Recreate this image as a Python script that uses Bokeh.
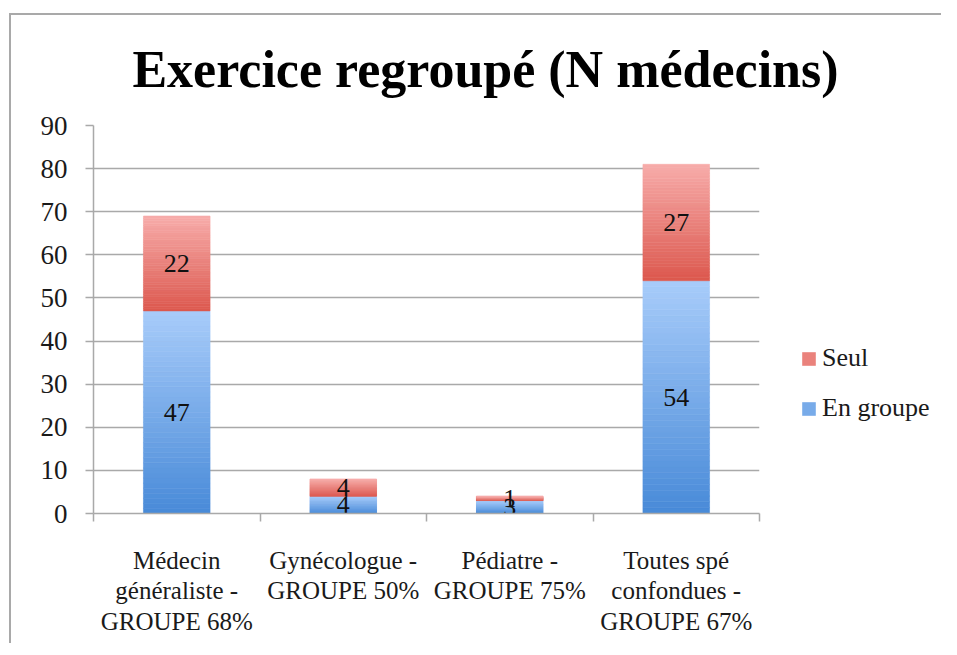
import numpy as np
from bokeh.plotting import figure
from bokeh.layouts import row, column
from bokeh.models import Range1d, FixedTicker, Legend, LegendItem, ColumnDataSource, Label
from bokeh.embed import file_html
from bokeh.resources import INLINE
from bokeh.core.properties import value

# ---- data ----
categories = ["Médecin\ngénéraliste -\nGROUPE 68%",
              "Gynécologue -\nGROUPE 50%",
              "Pédiatre -\nGROUPE 75%",
              "Toutes spé\nconfondues -\nGROUPE 67%"]
en_groupe = [47, 4, 3, 54]
seul = [22, 4, 1, 27]
y_ticks = [0, 10, 20, 30, 40, 50, 60, 70, 80, 90]
series_names = ["Seul", "En groupe"]
title_text = "Exercice regroupé (N médecins)"

FONT = "Liberation Serif"
BLUE_TOP, BLUE_BOT = (0xA8, 0xCC, 0xFA), (0x48, 0x8A, 0xD8)
RED_TOP, RED_BOT = (0xF7, 0xAC, 0xAA), (0xDC, 0x58, 0x4E)
BAR_W = 0.4
N_BANDS = 40
GRAY = "#a9a9a9"
W_TOTAL = 930
TITLE_H = 92
H = 536


def bare(fig):
    fig.outline_line_color = None
    fig.grid.visible = False
    fig.background_fill_color = "white"
    fig.border_fill_color = "white"


# ---- title strip ----
pt = figure(width=W_TOTAL, height=TITLE_H, output_backend="svg", toolbar_location=None,
            x_axis_location=None, y_axis_location=None,
            x_range=Range1d(0, W_TOTAL), y_range=Range1d(0, TITLE_H),
            min_border=0, min_border_left=0, min_border_right=0,
            min_border_top=0, min_border_bottom=0)
bare(pt)
pt.add_layout(Label(x=474, y=38, text=title_text, text_align="center",
                    text_baseline="alphabetic", text_font=FONT, text_font_size="52px",
                    text_font_style="bold", text_color="#000000"))

# ---- bars ----
p = figure(width=758, height=H, output_backend="svg", toolbar_location=None,
           x_range=Range1d(0, len(categories)), y_range=Range1d(0, 90),
           min_border_left=82, min_border_right=10, min_border_top=18,
           min_border_bottom=130)
p.outline_line_color = None
p.background_fill_color = "white"
p.border_fill_color = "white"


def hexc(c):
    return "#%02x%02x%02x" % tuple(int(round(v)) for v in c)


def mix(ctop, cbot, f):
    return [cbot[k] + (ctop[k] - cbot[k]) * f for k in range(3)]


def bands(bottoms, tops, ctop, cbot):
    L, R, B, T, C = [], [], [], [], []
    for i, (b, t) in enumerate(zip(bottoms, tops)):
        edges = np.linspace(b, t, N_BANDS + 1)
        for j in range(N_BANDS):
            f = (j + 0.5) / N_BANDS
            L.append(i + 0.5 - BAR_W / 2)
            R.append(i + 0.5 + BAR_W / 2)
            B.append(edges[j])
            T.append(edges[j + 1])
            C.append(hexc(mix(ctop, cbot, f)))
    return ColumnDataSource(dict(left=L, right=R, bottom=B, top=T, color=C))


zeros = [0] * len(categories)
tops_blue = list(en_groupe)
tops_red = [a + b for a, b in zip(en_groupe, seul)]
src_b = bands(zeros, tops_blue, BLUE_TOP, BLUE_BOT)
src_r = bands(tops_blue, tops_red, RED_TOP, RED_BOT)
p.quad(left="left", right="right", bottom="bottom", top="top", source=src_b,
       fill_color="color", line_color="color", line_width=0.6)
p.quad(left="left", right="right", bottom="bottom", top="top", source=src_r,
       fill_color="color", line_color="color", line_width=0.6)

# value labels
xs = [i + 0.5 for i in range(len(categories))]
lab = ColumnDataSource(dict(
    x=xs + xs,
    y=[v / 2 for v in en_groupe] + [a + b / 2 for a, b in zip(en_groupe, seul)],
    t=[str(v) for v in en_groupe] + [str(v) for v in seul]))
p.text(x="x", y="y", text="t", source=lab, text_align="center", text_baseline="middle",
       text_font=value(FONT), text_font_size="26px", text_color="#111111")

# axes
p.xgrid.grid_line_color = None
p.ygrid.grid_line_color = GRAY
p.ygrid.grid_line_width = 1.5
p.ygrid.ticker = FixedTicker(ticks=y_ticks)

ya = p.yaxis[0]
ya.ticker = FixedTicker(ticks=y_ticks)
ya.axis_line_color = GRAY
ya.axis_line_width = 1.5
ya.major_tick_line_color = GRAY
ya.major_tick_line_width = 1.5
ya.major_tick_out = 8
ya.major_tick_in = 0
ya.minor_tick_line_color = None
ya.major_label_text_font = FONT
ya.major_label_text_font_size = "27px"
ya.major_label_text_color = "#1a1a1a"
ya.major_label_standoff = 18

xa = p.xaxis[0]
xa.ticker = FixedTicker(ticks=xs, minor_ticks=list(range(len(categories) + 1)))
xa.major_label_overrides = {x: c for x, c in zip(xs, categories)}
xa.axis_line_color = GRAY
xa.axis_line_width = 1.5
xa.major_tick_line_color = None
xa.major_tick_out = 0
xa.major_tick_in = 0
xa.minor_tick_line_color = GRAY
xa.minor_tick_line_width = 1.5
xa.minor_tick_out = 8
xa.minor_tick_in = 0
xa.major_label_text_font = FONT
xa.major_label_text_font_size = "25px"
xa.major_label_text_color = "#1a1a1a"
xa.major_label_text_line_height = 1.13
xa.major_label_standoff = 25

# ---- legend panel (separate figure so it is not clipped by the bar frame) ----
pl = figure(width=W_TOTAL - 758, height=H, output_backend="svg", toolbar_location=None,
            x_axis_location=None, y_axis_location=None,
            x_range=Range1d(0, 1), y_range=Range1d(0, 1),
            min_border=0, min_border_left=0, min_border_right=0,
            min_border_top=0, min_border_bottom=0)
bare(pl)
# zero-size swatch carriers (legend needs a renderer with one row)
lr = pl.quad(left=[0], right=[0], bottom=[0], top=[0],
             fill_color=hexc(mix(RED_TOP, RED_BOT, 0.5)), line_color=None)
lb = pl.quad(left=[0], right=[0], bottom=[0], top=[0],
             fill_color=hexc(mix(BLUE_TOP, BLUE_BOT, 0.5)), line_color=None)
legend = Legend(items=[LegendItem(label=series_names[0], renderers=[lr], index=0),
                       LegendItem(label=series_names[1], renderers=[lb], index=0)],
                location=(31, 90), orientation="vertical",
                border_line_color=None, background_fill_alpha=0,
                glyph_width=17, glyph_height=17, label_standoff=5, spacing=20,
                label_height=30, padding=0, margin=0,
                label_text_font=FONT, label_text_font_size="26px", label_text_color="#1a1a1a")
pl.add_layout(legend, "center")

layout = column(pt, row(p, pl),
                styles={"border-top": "2px solid " + GRAY,
                        "border-left": "2px solid " + GRAY,
                        "margin-top": "13px", "margin-left": "9px"})

open("out.html", "w").write(file_html(layout, INLINE))
